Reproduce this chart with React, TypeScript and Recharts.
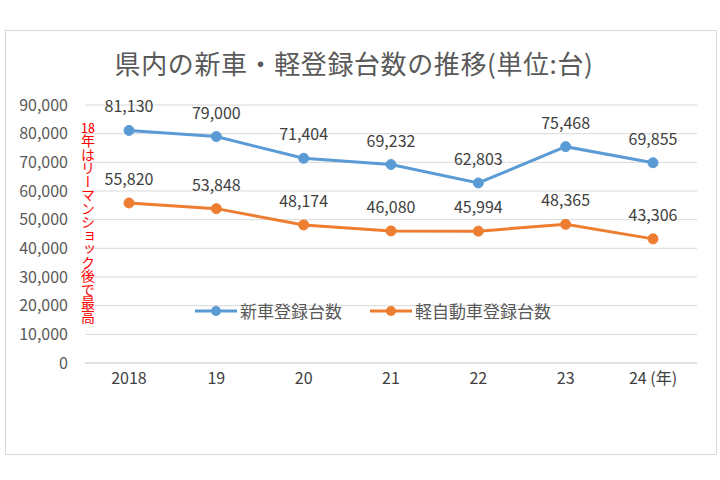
import React from 'react';
import { LineChart, Line, XAxis, YAxis, CartesianGrid, LabelList } from 'recharts';

const years = ['2018', '19', '20', '21', '22', '23', '24 (年)'];
const newCars = [81130, 79000, 71404, 69232, 62803, 75468, 69855];
const keiCars = [55820, 53848, 48174, 46080, 45994, 48365, 43306];
const yTicks = [0, 10000, 20000, 30000, 40000, 50000, 60000, 70000, 80000, 90000];

const seriesNames = { a: '新車登録台数', b: '軽自動車登録台数' };
const colors = { a: '#5B9BD5', b: '#ED7D31' };

const data = years.map((y, i) => ({ year: y, a: newCars[i], b: keiCars[i] }));

const FONT = '"Noto Sans CJK JP", "Noto Sans", sans-serif';

const fmt = (v: number) => v.toLocaleString('en-US');

const DataLabel = (props: any) => {
  const { x, y, value } = props;
  return (
    <text x={x} y={y - 18} textAnchor="middle" fontSize={16} fill="#404040" fontFamily={FONT}>
      {fmt(value)}
    </text>
  );
};

const LegendBox = () => (
  <div
    style={{
      position: 'absolute', left: 195, top: 299, display: 'flex', alignItems: 'center',
      fontFamily: FONT, fontSize: 17, color: '#595959', lineHeight: '24px',
    }}
  >
    {(['a', 'b'] as const).map((k, i) => (
      <div key={k} style={{ display: 'flex', alignItems: 'center', marginLeft: i ? 28 : 0 }}>
        <svg width={42} height={12}>
          <line x1={0} y1={6} x2={42} y2={6} stroke={colors[k]} strokeWidth={3} />
          <circle cx={21} cy={6} r={5} fill={colors[k]} />
        </svg>
        <span style={{ marginLeft: 3 }}>{seriesNames[k]}</span>
      </div>
    ))}
  </div>
);

export default function App() {
  return (
    <div style={{ position: 'absolute', left: 0, top: 0, width: 720, height: 480, background: '#fff' }}>
      <div
        style={{
          position: 'absolute', left: 5, top: 30, width: 712, height: 425,
          border: '1px solid #d9d9d9', boxSizing: 'border-box',
        }}
      />
      <div
        style={{
          position: 'absolute', left: 0, top: 46, width: 708, textAlign: 'center',
          fontFamily: FONT, fontSize: 26, color: '#595959', lineHeight: '34px', letterSpacing: '0.6px',
        }}
      >
        県内の新車・軽登録台数の推移(単位:台)
      </div>
      <div style={{ position: 'absolute', left: 0, top: 0 }}>
        <LineChart width={720} height={480} data={data} margin={{ top: 105, right: 23, bottom: 87, left: 15 }}>
          <CartesianGrid vertical={false} stroke="#d9d9d9" />
          <XAxis
            dataKey="year"
            axisLine={{ stroke: '#d9d9d9' }}
            tickLine={false}
            tickMargin={4}
            height={30}
            padding={{ left: 44, right: 44 }}
            tick={{ fontSize: 16, fill: '#404040', fontFamily: FONT }}
          />
          <YAxis
            domain={[0, 90000]}
            ticks={yTicks}
            width={70}
            axisLine={false}
            tickLine={false}
            tickMargin={11}
            tickFormatter={fmt}
            tick={{ fontSize: 16, fill: '#595959', fontFamily: FONT }}
          />
          <Line
            dataKey="a"
            name={seriesNames.a}
            stroke={colors.a}
            strokeWidth={3}
            dot={{ r: 5, fill: colors.a, stroke: colors.a, strokeWidth: 1 }}
            isAnimationActive={false}
          >
            <LabelList dataKey="a" content={<DataLabel />} />
          </Line>
          <Line
            dataKey="b"
            name={seriesNames.b}
            stroke={colors.b}
            strokeWidth={3}
            dot={{ r: 5, fill: colors.b, stroke: colors.b, strokeWidth: 1 }}
            isAnimationActive={false}
          >
            <LabelList dataKey="b" content={<DataLabel />} />
          </Line>
        </LineChart>
      </div>
      <LegendBox />
      <div
        style={{
          position: 'absolute', left: 80, top: 120, writingMode: 'vertical-rl',
          fontFamily: FONT, fontSize: 14, color: '#FF0000', lineHeight: '16px', letterSpacing: '-0.5px',
        }}
      >
        <span style={{ textCombineUpright: 'all' } as any}>18</span>年はリーマンショック後で最高
      </div>
    </div>
  );
}
